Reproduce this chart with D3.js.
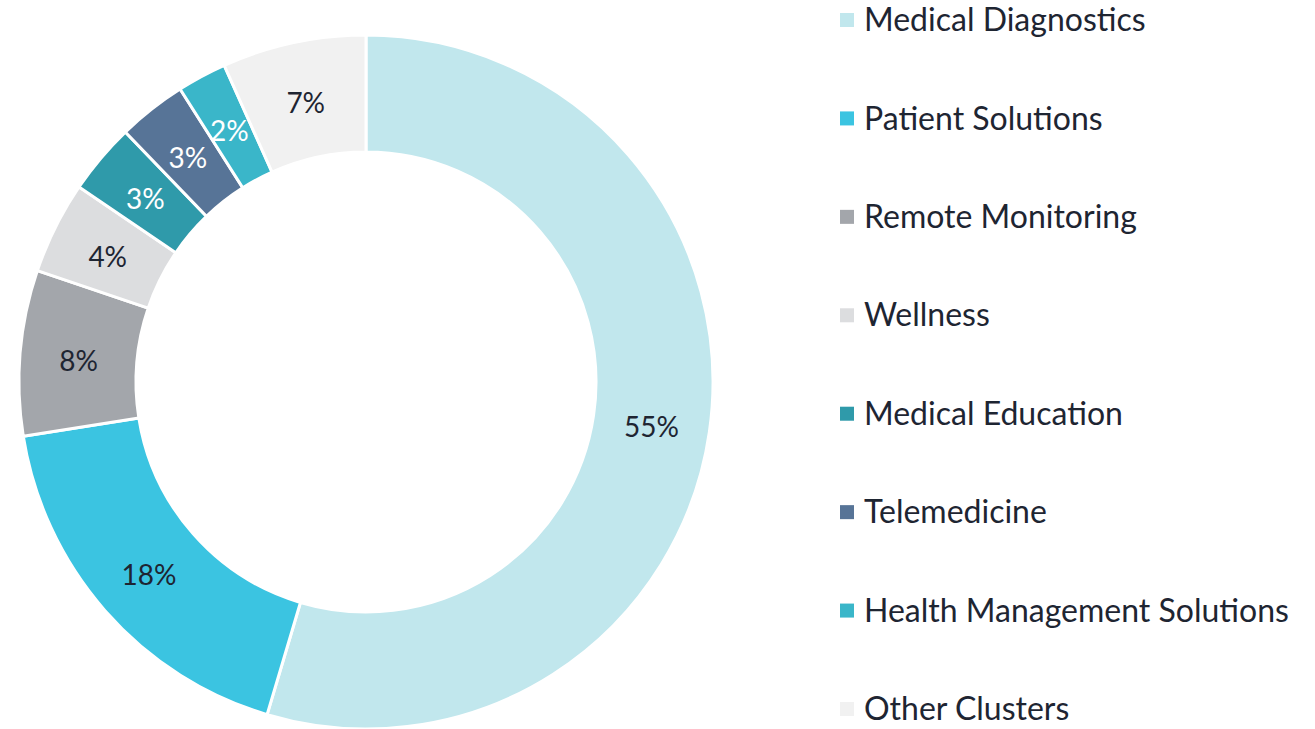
<!DOCTYPE html>
<html>
<head>
<meta charset="utf-8">
<script src="https://cdn.jsdelivr.net/npm/d3@7"></script>
<style>
  body { margin: 0; background: #fff; }
  svg { display: block; font-family: Lato, "Open Sans", sans-serif; }
</style>
</head>
<body>
<div id="chart"></div>
<script>
var categories = ["Medical Diagnostics", "Patient Solutions", "Remote Monitoring", "Wellness",
                  "Medical Education", "Telemedicine", "Health Management Solutions", "Other Clusters"];
var shares = [54.6, 17.9, 7.7, 4.3, 3.3, 3.2, 2.3, 6.7];
var colors = ["#c1e7ed", "#3bc4e1", "#a3a6ab", "#dcdddf", "#2f9aaa", "#577497", "#3ab6c9", "#f1f1f1"];
var labelColors = ["#1e2532", "#1e2532", "#1e2532", "#1e2532", "#ffffff", "#ffffff", "#ffffff", "#1e2532"];

var width = 1315, height = 729;
var cx = 366, cy = 382, outer = 347, inner = 230;

var svg = d3.select("#chart").append("svg")
    .attr("width", width)
    .attr("height", height);

var data = categories.map(function(c, i) { return {name: c, value: shares[i], i: i}; });

var pie = d3.pie().sort(null).value(function(d) { return d.value; });
var arc = d3.arc().innerRadius(inner).outerRadius(outer);

var g = svg.append("g").attr("transform", "translate(" + cx + "," + cy + ")");

var slices = g.selectAll("g.slice")
    .data(pie(data))
    .enter().append("g")
    .attr("class", "slice");

slices.append("path")
    .attr("d", arc)
    .style("fill", function(d) { return colors[d.data.i]; })
    .style("stroke", "#fff")
    .style("stroke-width", 3);

slices.append("text")
    .attr("transform", function(d) { return "translate(" + arc.centroid(d) + ")"; })
    .attr("dy", ".47em")
    .attr("text-anchor", "middle")
    .style("font-size", "28px")
    .style("fill", function(d) { return labelColors[d.data.i]; })
    .text(function(d) { return Math.round(d.data.value) + "%"; });

// legend
var legendY = d3.scalePoint().domain(categories).range([20, 709]);

var legend = svg.append("g").attr("class", "legend");

var items = legend.selectAll("g")
    .data(categories)
    .enter().append("g")
    .attr("transform", function(d) { return "translate(840," + legendY(d) + ")"; });

items.append("rect")
    .attr("x", 0)
    .attr("y", -7)
    .attr("width", 14)
    .attr("height", 14)
    .style("fill", function(d, i) { return colors[i]; });

items.append("text")
    .attr("x", 24)
    .attr("y", 0)
    .attr("dy", ".35em")
    .style("font-size", "32px")
    .style("fill", "#1e2532")
    .text(function(d) { return d; });
</script>
</body>
</html>
